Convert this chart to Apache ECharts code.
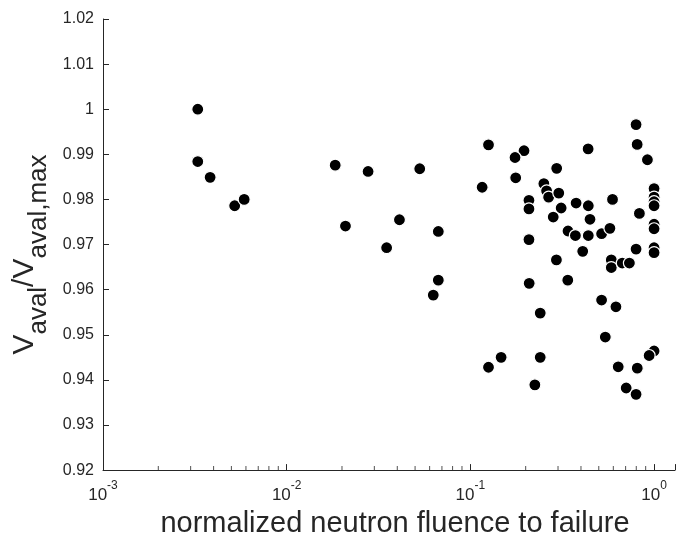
<!DOCTYPE html>
<html>
<head>
<meta charset="utf-8">
<script src="https://cdn.jsdelivr.net/npm/echarts@6/dist/echarts.min.js"></script>
<style>
html,body{margin:0;padding:0;background:#fff;}
#chart{width:678px;height:543px;}
</style>
</head>
<body>
<div id="chart"></div>
<script>
// x: normalized neutron fluence to failure, y: Vaval / Vaval,max
const fluence = [
  0.00328, 0.00328, 0.00383, 0.00521, 0.00587,
  0.01837, 0.02774, 0.0530, 0.02089, 0.0411, 0.0350, 0.0669, 0.0669, 0.0628,
  0.798, 0.1255, 0.809, 0.1959, 0.4375, 0.175, 0.920, 0.295, 0.1765, 0.1159,
  0.2512, 0.260, 0.2667, 0.3029, 1.0, 0.2084, 0.2084, 1.0, 1.0, 1.0,
  0.312, 0.3763, 0.4385, 0.594, 0.2825, 0.448, 0.832, 0.340, 0.373, 0.4385,
  0.518, 0.575, 1.0, 1.0, 0.2084, 0.4088, 0.798, 1.0, 1.0, 0.294,
  0.585, 0.585, 0.671, 0.734, 0.209, 0.339, 0.518, 0.620, 0.240, 0.5426,
  1.0, 0.94, 0.147, 0.240, 0.1255, 0.638, 0.81, 0.2244, 0.705, 0.798
];
const vRatio = [
  1.0000, 0.9884, 0.9849, 0.9786, 0.9800,
  0.9876, 0.9862, 0.9868, 0.9741, 0.9755, 0.9693, 0.9729, 0.9621, 0.9588,
  0.9966, 0.9921, 0.9922, 0.9908, 0.9912, 0.9893, 0.9888, 0.9869, 0.9848, 0.9827,
  0.9835, 0.9819, 0.9805, 0.9814, 0.9824, 0.9798, 0.9779, 0.9805, 0.9795, 0.9786,
  0.9781, 0.9792, 0.9786, 0.9800, 0.9761, 0.9756, 0.9769, 0.9730, 0.9720, 0.9720,
  0.9724, 0.9736, 0.9745, 0.9735, 0.9711, 0.9685, 0.9690, 0.9693, 0.9682, 0.9666,
  0.9666, 0.9649, 0.9659, 0.9659, 0.9614, 0.9621, 0.9577, 0.9562, 0.9548, 0.9495,
  0.9464, 0.9454, 0.9450, 0.9450, 0.9428, 0.9429, 0.9426, 0.9389, 0.9382, 0.9368
];
const minorTickValues = [
  0.002, 0.003, 0.004, 0.005, 0.006, 0.007, 0.008, 0.009,
  0.02, 0.03, 0.04, 0.05, 0.06, 0.07, 0.08, 0.09,
  0.2, 0.3, 0.4, 0.5, 0.6, 0.7, 0.8, 0.9
];
const xMin = 0.001, xMax = 1.3;
const yMin = 0.92, yMax = 1.02, yStep = 0.01;

const txt = '#262626';
const font = 'Liberation Sans';
const points = fluence.map((x, i) => [x, vRatio[i]]);
const minorTicks = minorTickValues.map(x => [x, yMin]);

const chart = echarts.init(document.getElementById('chart'), null, {renderer: 'canvas'});
chart.setOption({
  animation: false,
  backgroundColor: '#fff',
  grid: {left: 103, right: 0, top: 19, bottom: 72, containLabel: false},
  xAxis: {
    type: 'log', logBase: 10, min: xMin, max: xMax,
    name: 'normalized neutron fluence to failure',
    nameLocation: 'middle', nameGap: 35,
    nameTextStyle: {fontFamily: font, fontSize: 29, color: txt, padding: [0, 0, 0, 12]},
    axisLine: {show: true, onZero: false, lineStyle: {color: txt, width: 1}},
    axisTick: {show: true, inside: true, length: 6, lineStyle: {color: txt}},
    splitLine: {show: false},
    minorTick: {show: false},
    axisLabel: {
      margin: 10, color: txt, fontFamily: font,
      formatter: function (v) {
        const e = Math.log10(v);
        if (Math.abs(e - Math.round(e)) > 1e-6) return '';
        return '{n|10}{s|' + Math.round(e) + '}';
      },
      rich: {
        n: {fontSize: 17, lineHeight: 17, padding: [7, 0, 0, 0], verticalAlign: 'top', color: txt, fontFamily: font},
        s: {fontSize: 12, lineHeight: 12, verticalAlign: 'top', color: txt, fontFamily: font}
      }
    }
  },
  yAxis: {
    type: 'value', min: yMin, max: yMax, interval: yStep,
    name: '{v|V}{s|aval}{v|/V}{s|aval,max}',
    nameLocation: 'middle', nameGap: 52,
    nameTextStyle: {
      color: txt, fontFamily: font, padding: [0, 20, 0, 0],
      rich: {
        v: {fontSize: 30, lineHeight: 30, verticalAlign: 'top', color: txt, fontFamily: font},
        s: {fontSize: 26, lineHeight: 26, padding: [16, 0, 0, 0], verticalAlign: 'top', color: txt, fontFamily: font}
      }
    },
    axisLine: {show: true, onZero: false, lineStyle: {color: txt, width: 1}},
    axisTick: {show: true, inside: true, length: 6, lineStyle: {color: txt}},
    splitLine: {show: false},
    axisLabel: {
      margin: 9, color: txt, fontFamily: font, fontSize: 16,
      formatter: v => String(parseFloat(v.toFixed(2)))
    }
  },
  series: [
    {
      type: 'scatter', data: points, symbol: 'circle', symbolSize: 12,
      itemStyle: {color: '#000', borderColor: '#fff', borderWidth: 1.2, opacity: 1},
      emphasis: {disabled: true}, clip: false
    },
    {
      type: 'scatter', data: minorTicks, symbol: 'rect', symbolSize: [1, 4],
      symbolOffset: [0, -2], silent: true, clip: false,
      itemStyle: {color: txt}, emphasis: {disabled: true}, z: 1
    }
  ]
});
</script>
</body>
</html>
